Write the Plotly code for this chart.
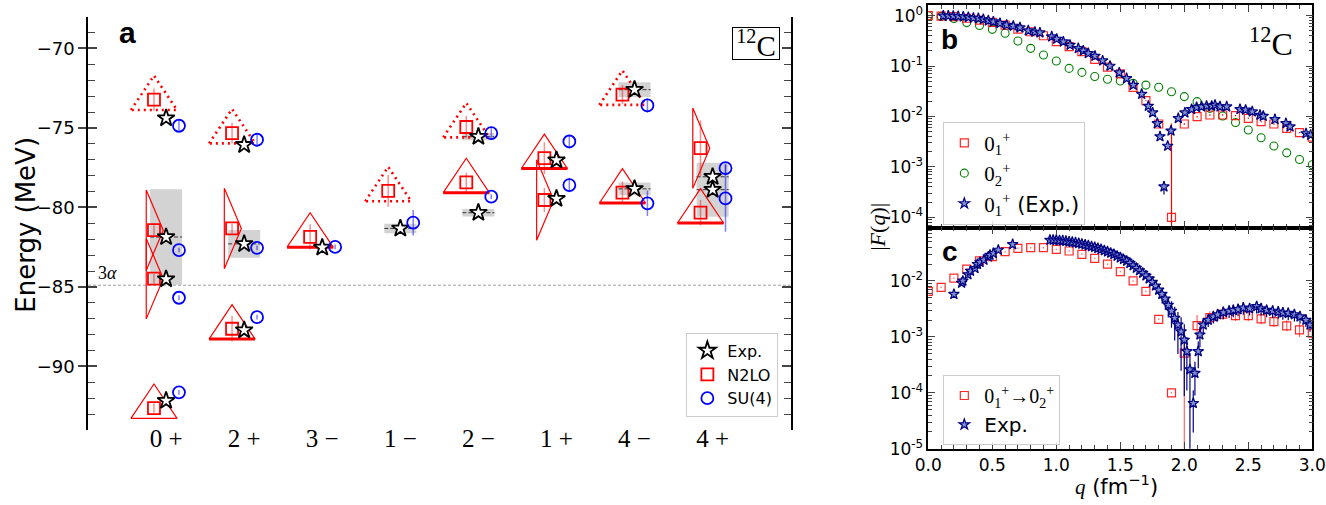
import plotly.graph_objects as go

# ================= Panel a : 12C spectrum =================
categories = ["0 +", "2 +", "3 −", "1 −", "2 −", "1 +", "4 −", "4 +"]

n2lo_cat = [0, 0, 0, 0, 1, 1, 1, 2, 3, 4, 4, 5, 5, 6, 6, 7, 7]
n2lo_E = [-92.62, -84.48, -81.43, -73.22, -87.63, -81.32, -75.32, -81.85, -78.96,
          -78.42, -74.94, -79.53, -76.90, -79.07, -72.90, -80.33, -76.27]
n2lo_err = [0.3, 0.3, 0.3, 0.7, 0.8, 0.3, 0.65, 0.8, 1.0, 0.6, 0.7, 0.75, 1.0, 0.7, 0.6, 0.8, 1.74]
n2lo_band = ["tri_thin", "arrow", "arrow", "dot", "tri", "arrow", "dot", "tri", "dot",
             "tri", "dot", "arrow", "tri", "tri", "dot", "tri", "arrow"]

exp_cat = [0, 0, 0, 0, 1, 1, 1, 2, 3, 4, 4, 5, 5, 6, 6, 7, 7]
exp_E = [-92.16, -84.51, -81.86, -74.38, -87.72, -82.29, -76.06, -82.52, -81.32,
         -80.33, -75.55, -79.45, -77.03, -78.83, -72.59, -78.88, -78.07]
exp_width = [0, 0, 3.0, 0, 0, 0.87, 0, 0, 0.3, 0.24, 0.23, 0, 0, 0.4, 0.46, 1.7, 0.26]

su4_cat = [0, 0, 0, 0, 1, 1, 1, 2, 3, 4, 4, 5, 5, 6, 6, 7, 7]
su4_E = [-91.63, -85.68, -82.69, -74.86, -86.90, -82.54, -75.74, -82.48, -80.96,
         -79.32, -75.32, -78.59, -75.85, -79.74, -73.58, -79.43, -77.53]
su4_err = [0.15, 0.15, 0.15, 0.3, 0.15, 0.15, 0.3, 0.15, 0.8, 0.15, 0.3, 0.45, 0.35, 0.8, 0.45, 2.1, 0.3]

three_alpha = -84.89

# ================= Panel b : elastic form factors =================
q_grid = [0.0, 0.1, 0.2, 0.3, 0.4, 0.5, 0.6, 0.7, 0.8, 0.9, 1.0, 1.1, 1.2, 1.3, 1.4, 1.5,
          1.6, 1.7, 1.8, 1.9, 2.0, 2.1, 2.2, 2.3, 2.4, 2.5, 2.6, 2.7, 2.8, 2.9, 3.0]
F_01 = [1.0, 0.98, 0.96, 0.89, 0.82, 0.74, 0.65, 0.54, 0.48, 0.40, 0.305, 0.243, 0.193,
        0.136, 0.095, 0.070, 0.038, 0.0206, 0.0071, 0.0001, 0.0071, 0.0099, 0.0107, 0.0107,
        0.0104, 0.0092, 0.0079, 0.0071, 0.0058, 0.0048, 0.0039]
F_02 = [1.0, 0.97, 0.88, 0.73, 0.64, 0.536, 0.447, 0.314, 0.225, 0.166, 0.126, 0.090, 0.075,
        0.062, 0.055, 0.0506, 0.0455, 0.042, 0.038, 0.031, 0.0248, 0.0197, 0.0145, 0.0102,
        0.0076, 0.0054, 0.0038, 0.0026, 0.0019, 0.0014, 0.0011]
# relative errors (plus / minus)
F_01_rel_plus = [0.02] * 19 + [72.0] + [0.03] * 11
F_01_rel_minus = [0.02] * 19 + [0.999] + [0.03] * 11

q_exp_b = [0.117, 0.156, 0.195, 0.234, 0.273, 0.313, 0.352, 0.391, 0.43, 0.469, 0.508, 0.56,
           0.612, 0.664, 0.716, 0.781, 0.833, 0.872, 0.964, 1.003, 1.055, 1.107, 1.172, 1.211,
           1.25, 1.302, 1.362, 1.419, 1.492, 1.549, 1.602, 1.667, 1.719, 1.753, 1.789, 1.81,
           1.841, 1.87, 1.896, 1.953, 2.005, 2.057, 2.096, 2.135, 2.174, 2.214, 2.24, 2.279,
           2.331, 2.435, 2.479, 2.531, 2.591, 2.617, 2.708, 2.794, 2.826, 2.951, 2.987]
F_exp_b = [0.99, 0.99, 0.98, 0.97, 0.956, 0.93, 0.90, 0.887, 0.847, 0.797, 0.76, 0.706, 0.654,
           0.625, 0.579, 0.505, 0.475, 0.46, 0.384, 0.345, 0.305, 0.262, 0.225, 0.202, 0.179,
           0.158, 0.128, 0.1005, 0.074, 0.057, 0.042, 0.0279, 0.0161, 0.0119, 0.0073, 0.0040,
           0.000405, 0.0026, 0.0052, 0.0092, 0.0119, 0.0139, 0.0152, 0.0157, 0.0162, 0.0162,
           0.0169, 0.0157, 0.0157, 0.0139, 0.0135, 0.0125, 0.0107, 0.0102, 0.0088, 0.0073,
           0.0063, 0.0046, 0.0043]
F_exp_b_relerr = [0.02] * 33 + [0.05, 0.06, 0.1, 0.3, 0.12, 0.08] + [0.04] * 20

# ================= Panel c : transition form factor =================
F_0102 = [0.0065, 0.0077, 0.0112, 0.0162, 0.0228, 0.0272, 0.0334, 0.0383, 0.0394, 0.0394,
          0.0367, 0.0343, 0.0299, 0.0254, 0.0199, 0.0147, 0.0100, 0.0065, 0.00206, 0.0001,
          0.00051, 0.00159, 0.00221, 0.00254, 0.0024, 0.0024, 0.0021, 0.00188, 0.00157,
          0.00133, 0.00116]
F_0102_rel_plus = [0.03] * 20 + [0.6, 0.55, 0.3, 0.25, 0.25, 0.25, 0.25, 0.25, 0.25, 0.3, 0.3]
F_0102_rel_minus = [0.03] * 20 + [0.999, 0.4, 0.25, 0.2, 0.2, 0.2, 0.2, 0.2, 0.2, 0.25, 0.25]

q_exp_c = [0.20, 0.26, 0.27, 0.31, 0.33, 0.365, 0.383, 0.404, 0.435, 0.469, 0.482, 0.508,
           0.547, 0.659,
           0.95, 0.975, 1.0, 1.025, 1.05, 1.075, 1.1, 1.125, 1.15, 1.175, 1.2, 1.225, 1.25,
           1.275, 1.3, 1.325, 1.35, 1.375, 1.4, 1.425, 1.45, 1.475, 1.5, 1.525, 1.55, 1.575,
           1.6, 1.625, 1.65, 1.675, 1.7, 1.725, 1.75, 1.775, 1.8, 1.825, 1.85, 1.875, 1.9,
           1.925, 1.95, 1.975, 2.0, 2.02,
           2.044, 2.07, 2.083, 2.109, 2.122, 2.148, 2.187, 2.227, 2.26, 2.305, 2.35, 2.383,
           2.42, 2.461, 2.51, 2.565, 2.60, 2.643, 2.69, 2.734, 2.77, 2.812, 2.86, 2.904,
           2.95, 2.982]
F_exp_c = [0.0058, 0.0092, 0.0100, 0.0130, 0.0150, 0.0168, 0.0199, 0.0216, 0.0237, 0.027,
           0.029, 0.0312, 0.0358, 0.045,
           0.054, 0.054, 0.054, 0.053, 0.0525, 0.0515, 0.0503, 0.0494, 0.0484, 0.047, 0.0458,
           0.0443, 0.0428, 0.0414, 0.040, 0.0384, 0.0367, 0.035, 0.0334, 0.0317, 0.030,
           0.028, 0.0261, 0.0245, 0.0228, 0.0208, 0.0188, 0.017, 0.0153, 0.0138, 0.0124,
           0.011, 0.0095, 0.0082, 0.0069, 0.0058, 0.0048, 0.0037, 0.0029, 0.00216, 0.00164,
           0.00124, 0.00088, 0.00055,
           0.00026, 0.000065, 0.000224, 0.00055, 0.00109, 0.00164, 0.0020, 0.0023, 0.0025,
           0.00275, 0.0029, 0.0030, 0.0031, 0.0033, 0.0032, 0.0035, 0.0032, 0.0030, 0.0029,
           0.0028, 0.0027, 0.00265, 0.0025, 0.0023, 0.0020, 0.00164]
F_exp_c_relerr = ([0.05] * 14 + [0.04] * 30 + [0.1, 0.12, 0.14, 0.16, 0.2, 0.25, 0.3,
                  0.4, 0.5, 0.6, 0.7, 0.8, 0.9, 0.8] + [0.99, 0.7, 0.6, 0.5, 0.4, 0.3]
                  + [0.25] * 20)

# ================= style constants =================
SQ_OFF, CI_OFF = -0.155, 0.165
BOX_HW = 0.205
TRI_HW, TRI_UP, TRI_DN = 0.295, 1.515, 0.65
ARR_L, ARR_R, ARR_H = 0.099, 0.119, 2.53
RED_ERR = "rgba(255,0,0,0.45)"
BLUE_ERR = "rgba(0,0,255,0.5)"
SERIF = "Liberation Serif"

fig = go.Figure()

# grey resonance-width boxes and dashed level lines
for c, e, w in zip(exp_cat, exp_E, exp_width):
    if w > 0:
        fig.add_trace(go.Scatter(
            x=[c - BOX_HW, c + BOX_HW, c + BOX_HW, c - BOX_HW, c - BOX_HW],
            y=[e - w, e - w, e + w, e + w, e - w], mode="lines", fill="toself",
            fillcolor="#d3d3d3", line=dict(width=0), showlegend=False, hoverinfo="skip",
            xaxis="x", yaxis="y"))
dl_x, dl_y = [], []
for c, e, w in zip(exp_cat, exp_E, exp_width):
    if w > 0:
        dl_x += [c - BOX_HW, c + BOX_HW, None]
        dl_y += [e, e, None]
fig.add_trace(go.Scatter(x=dl_x, y=dl_y, mode="lines",
                         line=dict(color="#333333", width=1, dash="4px,2px"),
                         showlegend=False, hoverinfo="skip"))

# 3 alpha threshold
fig.add_trace(go.Scatter(x=[-1, 8], y=[three_alpha, three_alpha], mode="lines",
                         line=dict(color="#a0a0a0", width=1, dash="3px,2px"),
                         showlegend=False, hoverinfo="skip"))

# band triangles around N2LO levels
sol_x, sol_y, dot_x, dot_y, base_x, base_y = [], [], [], [], [], []
for c, e, b in zip(n2lo_cat, n2lo_E, n2lo_band):
    xc = c + SQ_OFF
    if b in ("tri", "tri_thin", "dot"):
        xs = [xc - TRI_HW, xc, xc + TRI_HW, xc - TRI_HW, None]
        ys = [e - TRI_DN, e + TRI_UP, e - TRI_DN, e - TRI_DN, None]
        if b == "dot":
            dot_x += xs
            dot_y += ys
        else:
            sol_x += xs
            sol_y += ys
            if b == "tri":
                base_x += [xc - TRI_HW, xc + TRI_HW, None]
                base_y += [e - TRI_DN, e - TRI_DN, None]
    elif b == "arrow":
        sol_x += [xc - ARR_L, xc + ARR_R, xc - ARR_L, xc - ARR_L, None]
        sol_y += [e + ARR_H, e, e - ARR_H, e + ARR_H, None]
fig.add_trace(go.Scatter(x=sol_x, y=sol_y, mode="lines", line=dict(color="red", width=1.2),
                         showlegend=False, hoverinfo="skip"))
fig.add_trace(go.Scatter(x=base_x, y=base_y, mode="lines", line=dict(color="red", width=3),
                         showlegend=False, hoverinfo="skip"))
fig.add_trace(go.Scatter(x=dot_x, y=dot_y, mode="lines",
                         line=dict(color="red", width=2.6, dash="2px,4px"),
                         showlegend=False, hoverinfo="skip"))

# N2LO
fig.add_trace(go.Scatter(
    x=[c + SQ_OFF for c in n2lo_cat], y=n2lo_E, mode="markers", name="N2LO",
    marker=dict(symbol="square-open", size=12, color="red", line=dict(width=1.8)),
    error_y=dict(type="data", array=n2lo_err, color=RED_ERR, thickness=1.5, width=0),
    legend="legend", legendrank=2))
# Exp
fig.add_trace(go.Scatter(
    x=exp_cat, y=exp_E, mode="markers", name="Exp.",
    marker=dict(symbol="star", size=13, color="white", line=dict(color="black", width=1.8)),
    legend="legend", legendrank=1))
# SU(4)
fig.add_trace(go.Scatter(
    x=[c + CI_OFF for c in su4_cat], y=su4_E, mode="markers", name="SU(4)",
    marker=dict(symbol="circle-open", size=12, color="blue", line=dict(width=1.8)),
    error_y=dict(type="data", array=su4_err, color=BLUE_ERR, thickness=1.5, width=0),
    legend="legend", legendrank=3))
# dummy for overlay y-axis
fig.add_trace(go.Scatter(x=[0], y=[-80], mode="markers", marker=dict(opacity=0),
                         showlegend=False, hoverinfo="skip", xaxis="x", yaxis="y2"))

# ---------------- panel b traces ----------------
lab01 = "<span style='font-family:Liberation Serif'>0<sub>1</sub><sup>+</sup></span>"
lab02 = "<span style='font-family:Liberation Serif'>0<sub>2</sub><sup>+</sup></span>"
fig.add_trace(go.Scatter(
    x=q_grid, y=F_02, mode="markers", name=lab02, xaxis="x2", yaxis="y3",
    marker=dict(symbol="circle-open", size=8, color="green", line=dict(width=1.1)),
    legend="legend2", legendrank=2))
fig.add_trace(go.Scatter(
    x=q_grid, y=F_01, mode="markers", name=lab01, xaxis="x2", yaxis="y3",
    marker=dict(symbol="square-open", size=8, color="rgba(255,0,0,0.85)", line=dict(width=1.2)),
    error_y=dict(type="data", symmetric=False,
                 array=[f * r for f, r in zip(F_01, F_01_rel_plus)],
                 arrayminus=[f * r for f, r in zip(F_01, F_01_rel_minus)],
                 color="red", thickness=1.2, width=0),
    legend="legend2", legendrank=1))
fig.add_trace(go.Scatter(
    x=q_exp_b, y=F_exp_b, mode="markers", name=lab01 + " (Exp.)", xaxis="x2", yaxis="y3",
    marker=dict(symbol="star", size=8, color="#7f8fcf", line=dict(color="navy", width=1.2)),
    error_y=dict(type="data", array=[f * r for f, r in zip(F_exp_b, F_exp_b_relerr)],
                 color="navy", thickness=1.2, width=0),
    legend="legend2", legendrank=3))

# ---------------- panel c traces ----------------
fig.add_trace(go.Scatter(
    x=q_grid, y=F_0102, mode="markers",
    name="<span style='font-family:Liberation Serif'>0<sub>1</sub><sup>+</sup>→0<sub>2</sub><sup>+</sup></span>",
    xaxis="x3", yaxis="y4",
    marker=dict(symbol="square-open", size=8, color="rgba(255,0,0,0.85)", line=dict(width=1.2)),
    error_y=dict(type="data", symmetric=False,
                 array=[f * r for f, r in zip(F_0102, F_0102_rel_plus)],
                 arrayminus=[f * r for f, r in zip(F_0102, F_0102_rel_minus)],
                 color="rgba(255,0,0,0.6)", thickness=1.2, width=0),
    legend="legend3", legendrank=1))
fig.add_trace(go.Scatter(
    x=q_exp_c, y=F_exp_c, mode="markers", name="Exp.", xaxis="x3", yaxis="y4",
    marker=dict(symbol="star", size=8, color="#7f8fcf", line=dict(color="navy", width=1.2)),
    error_y=dict(type="data", array=[f * r for f, r in zip(F_exp_c, F_exp_c_relerr)],
                 color="navy", thickness=1.2, width=0),
    legend="legend3", legendrank=2))

# ---------------- axes ----------------
dec_b = [1e-4, 1e-3, 1e-2, 1e-1, 1.0]
dec_b_txt = ["10<sup>-4</sup>", "10<sup>-3</sup>", "10<sup>-2</sup>", "10<sup>-1</sup>", "10<sup>0</sup>"]
dec_c = [1e-5, 1e-4, 1e-3, 1e-2]
dec_c_txt = ["10<sup>-5</sup>", "10<sup>-4</sup>", "10<sup>-3</sup>", "10<sup>-2</sup>"]
minor_log = [k * 10.0 ** d for d in range(-6, 1) for k in range(2, 10)]

AX_B = dict(domain=[0.70008, 0.98967], automargin=False)
common_q = dict(range=[0, 3], dtick=0.5, tick0=0, ticks="inside", ticklen=7, tickwidth=1.2,
                showline=True, linecolor="black", linewidth=1.5, mirror="ticks",
                showgrid=False, zeroline=False,
                minor=dict(ticks="inside", dtick=0.1, tick0=0, ticklen=4, tickwidth=1,
                           showgrid=False))
common_logy = dict(type="log", ticks="inside", ticklen=7, tickwidth=1.2, showline=True,
                   linecolor="black", linewidth=1.5, mirror="ticks", showgrid=False,
                   zeroline=False, tickfont=dict(size=17), automargin=False,
                   minor=dict(tickmode="array", tickvals=minor_log, ticks="inside",
                              ticklen=4, tickwidth=1, showgrid=False))

fig.update_layout(
    width=1326, height=505, margin=dict(l=0, r=0, t=0, b=0, autoexpand=False),
    paper_bgcolor="white", plot_bgcolor="white",
    font=dict(family="DejaVu Sans", color="black"),
    xaxis=dict(domain=[0.06637, 0.5963], range=[-1, 8], tickmode="array",
               tickvals=list(range(8)), ticktext=categories, showline=False, showgrid=False,
               zeroline=False, ticks="", tickfont=dict(family=SERIF, size=25), anchor="y",
               automargin=False, ticklabelstandoff=-9),
    yaxis=dict(domain=[0.14851, 0.96693], range=[-94, -68], tick0=-70, dtick=5,
               ticks="outside", ticklen=8, tickwidth=1.5, showline=True, linewidth=1.5,
               linecolor="black", showgrid=False, zeroline=False,
               tickfont=dict(size=18), anchor="x", automargin=False),
    yaxis2=dict(overlaying="y", side="left", anchor="x", range=[-94, -68], tick0=-70, dtick=5,
                ticks="inside", ticklen=9, tickwidth=1.5, showline=True, linewidth=1.5,
                linecolor="black", mirror="ticks", showticklabels=False, showgrid=False,
                zeroline=False, automargin=False,
                minor=dict(ticks="inside", dtick=1, tick0=-70, ticklen=7, tickwidth=1.2,
                           showgrid=False)),
    xaxis2=dict(**AX_B, anchor="y3", showticklabels=False, **common_q),
    yaxis3=dict(domain=[0.54911, 0.9901], anchor="x2", range=[-4.206, 0.212],
                tickmode="array", tickvals=dec_b, ticktext=dec_b_txt, **common_logy),
    xaxis3=dict(**AX_B, anchor="y4", tickformat=".1f", tickfont=dict(size=17), **common_q),
    yaxis4=dict(domain=[0.11149, 0.54911], anchor="x3", range=[-5, -1.048],
                tickmode="array", tickvals=dec_c, ticktext=dec_c_txt, **common_logy),
    legend=dict(x=0.587, xanchor="right", y=0.1749, yanchor="bottom",
                bgcolor="rgba(255,255,255,0.85)", bordercolor="#cccccc", borderwidth=1,
                font=dict(size=16), tracegroupgap=0, itemwidth=30),
    legend2=dict(x=0.7114, xanchor="left", y=0.759, yanchor="top",
                 bgcolor="rgba(255,255,255,0.85)", bordercolor="#cccccc", borderwidth=1,
                 font=dict(size=21), tracegroupgap=0, itemwidth=30),
    legend3=dict(x=0.7114, xanchor="left", y=0.2574, yanchor="top",
                 bgcolor="rgba(255,255,255,0.85)", bordercolor="#cccccc", borderwidth=1,
                 font=dict(size=20), tracegroupgap=0, itemwidth=30),
)

ann = [
    dict(text="<b>a</b>", x=0.0958, y=0.9347, font=dict(family="Liberation Sans", size=30)),
    dict(text="<b>b</b>", x=0.7164, y=0.9208, font=dict(family="Liberation Sans", size=28)),
    dict(text="<b>c</b>", x=0.7164, y=0.5016, font=dict(family="Liberation Sans", size=28)),
    dict(text="<sup>12</sup>C", x=0.5882, y=0.9471, xanchor="right", yanchor="top",
         font=dict(family=SERIF, size=29), bordercolor="black", borderwidth=1, borderpad=0,
         width=46, height=31),
    dict(text="<sup>12</sup>C", x=0.9585, y=0.9168, font=dict(family=SERIF, size=32)),
    dict(text="Energy (MeV)", x=0.0200, y=0.554, textangle=-90, font=dict(size=26)),
    dict(text="|<i>F</i>(<i>q</i>)|", x=0.662, y=0.5505, textangle=-90,
         font=dict(family=SERIF, size=22)),
    dict(text="<span style='font-family:Liberation Serif'><i>q</i></span> (fm<sup>−1</sup>)",
         x=0.8422, y=0.0396, font=dict(size=21)),
]
for a in ann:
    a.setdefault("xanchor", "center")
    a.setdefault("yanchor", "middle")
    fig.add_annotation(xref="paper", yref="paper", showarrow=False, **a)
fig.add_annotation(xref="x", yref="y", x=-0.9, y=three_alpha, text="3<i>α</i>",
                   xanchor="left", yanchor="bottom", showarrow=False,
                   font=dict(family=SERIF, size=18))

fig.write_html("out.html", config={"displayModeBar": False},
               post_script="document.body.style.margin='0px';")
